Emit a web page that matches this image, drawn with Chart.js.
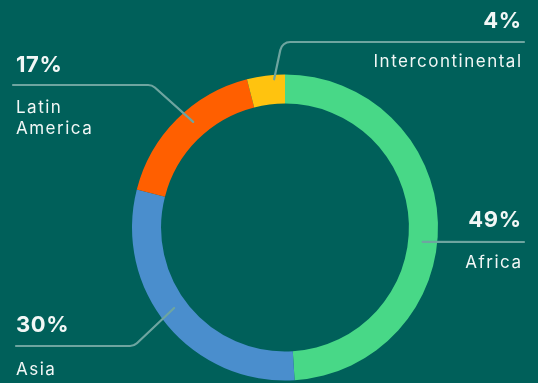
<!DOCTYPE html>
<html>
<head>
<meta charset="utf-8">
<script src="https://cdn.jsdelivr.net/npm/chart.js@4"></script>
<style>
    html, body { margin: 0; padding: 0; background: #00605a; }
    #wrap { width: 538px; height: 383px; position: relative; }
</style>
</head>
<body>
<div id="wrap"><canvas id="regionChart"></canvas></div>
<script>
// Share by region (%)
const regions = ['Africa', 'Asia', ['Latin', 'America'], 'Intercontinental'];
const shares = [49, 30, 17, 4];
const sliceColors = ['#48d887', '#4a8ecd', '#ff5f00', '#ffc30f'];

// Where each callout sits: text anchor, leader line row, elbow and ring nudge
const callouts = [
    { align: 'right', x: 521, pctY: 227, lineY: 242, lineEnd: 524, elbowX: null, nudge: 7.8, t: 0.5, nameY: 268 },
    { align: 'left', x: 16, pctY: 332, lineY: 346, lineEnd: 16, elbowX: 134, nudge: 3.6, t: 0.45, nameY: 375 },
    { align: 'left', x: 16, pctY: 72, lineY: 85, lineEnd: 13, elbowX: 152, nudge: 4, t: 0.55, nameY: 113 },
    { align: 'right', x: 521, pctY: 28, lineY: 42, lineEnd: 524, elbowX: 282, nudge: 3, t: 0.85, nameY: 67 }
];

// letterSpacing adds space after the last glyph too, so right-aligned text gets pushed back
function spacedText(ctx, text, x, y, align, spacing) {
    ctx.letterSpacing = spacing + 'px';
    ctx.fillText(text, align === 'right' ? x + spacing : x, y);
    ctx.letterSpacing = '0px';
}

const calloutPlugin = {
    id: 'callouts',
    afterDatasetsDraw(chart) {
        const ctx = chart.ctx;
        const arcs = chart.getDatasetMeta(0).data;
        ctx.save();
        arcs.forEach((arc, i) => {
            const c = callouts[i];
            const mid = (arc.startAngle + arc.endAngle) / 2 + c.nudge * Math.PI / 180;
            const r = arc.innerRadius + c.t * (arc.outerRadius - arc.innerRadius);
            const px = arc.x + r * Math.cos(mid);
            const py = arc.y + r * Math.sin(mid);

            // leader line
            ctx.strokeStyle = '#6ea5a0';
            ctx.lineWidth = 2.2;
            ctx.lineCap = 'round';
            ctx.lineJoin = 'round';
            ctx.beginPath();
            ctx.moveTo(px, py);
            if (c.elbowX !== null) {
                ctx.arcTo(c.elbowX, c.lineY, c.lineEnd, c.lineY, 10);
            }
            ctx.lineTo(c.lineEnd, c.lineY);
            ctx.stroke();

            // value and name
            ctx.fillStyle = '#f2f7f6';
            ctx.textAlign = c.align;
            ctx.textBaseline = 'alphabetic';
            ctx.font = 'bold 22px Inter';
            spacedText(ctx, shares[i] + '%', c.x, c.pctY, c.align, 0.6);
            ctx.font = '17px Inter';
            [].concat(regions[i]).forEach((line, k) => {
                spacedText(ctx, line, c.x, c.nameY + k * 20.5, c.align, 1.5);
            });
        });
        ctx.restore();
    }
};

new Chart(document.getElementById('regionChart'), {
    type: 'doughnut',
    data: {
        labels: regions,
        datasets: [{
            data: shares,
            backgroundColor: sliceColors,
            borderWidth: 0,
            hoverOffset: 0
        }]
    },
    options: {
        responsive: true,
        maintainAspectRatio: false,
        animation: false,
        events: [],
        cutout: '81%',
        layout: {
            padding: { left: 132, right: 100, top: 74, bottom: 2 }
        },
        plugins: {
            legend: { display: false },
            tooltip: { enabled: false }
        }
    },
    plugins: [calloutPlugin]
});
</script>
</body>
</html>
